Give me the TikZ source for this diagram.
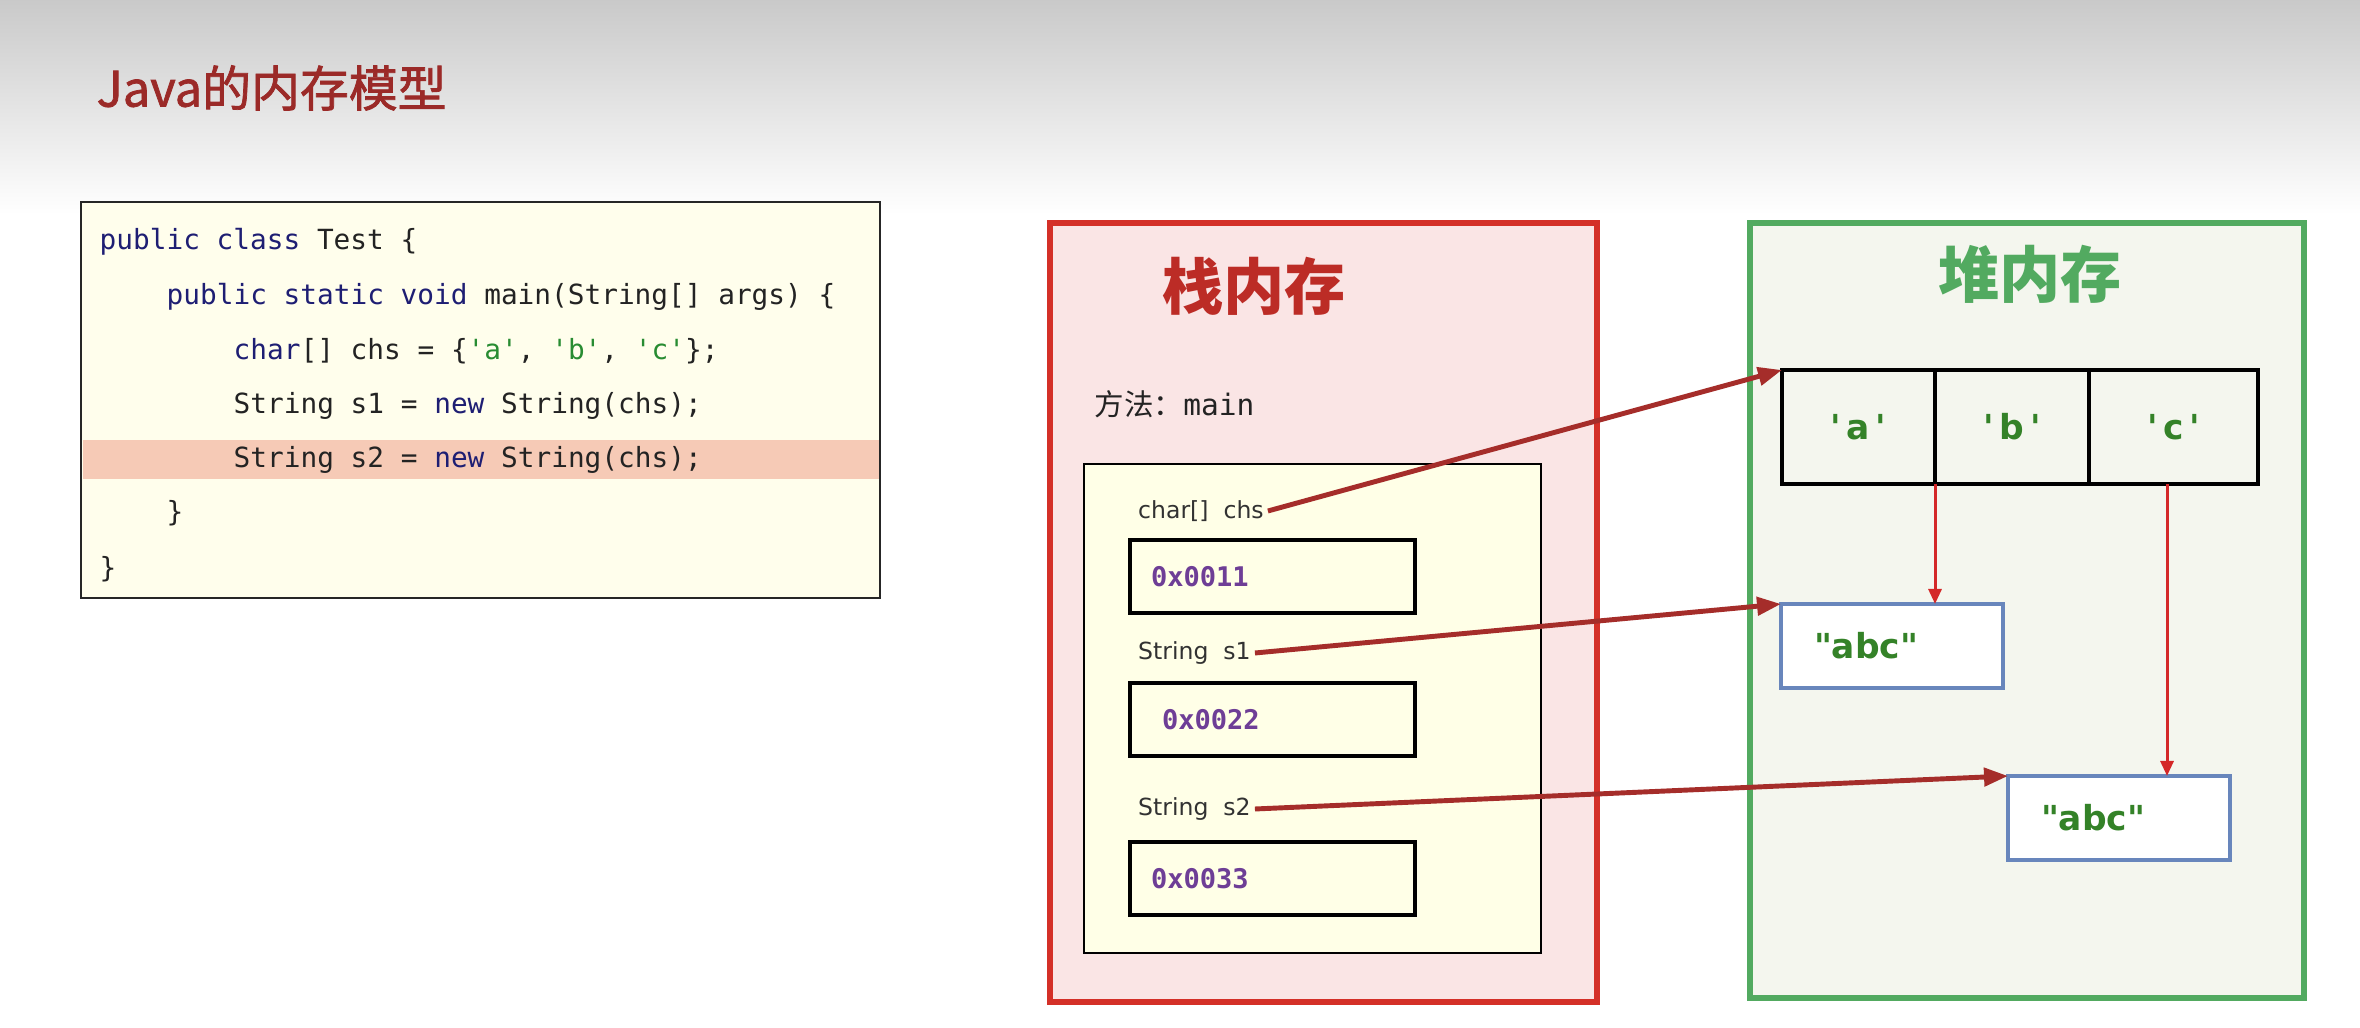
\documentclass[tikz,border=0pt]{standalone}
\usepackage{fontspec}
\setmainfont{DejaVu Sans}
\setmonofont{DejaVu Sans Mono}
\newfontfamily\cjk{Noto Sans CJK SC}
\newfontfamily\cjktitle[FakeBold=1.5]{Noto Sans CJK SC}
\usetikzlibrary{arrows.meta, positioning}
\definecolor{titlered}{RGB}{155,42,40}
\definecolor{kwblue}{RGB}{30,30,115}
\definecolor{codetext}{RGB}{35,35,35}
\definecolor{chrgreen}{RGB}{40,140,50}
\definecolor{codebg}{RGB}{255,254,236}
\definecolor{hilite}{RGB}{246,202,182}
\definecolor{stackred}{RGB}{212,48,40}
\definecolor{stackbg}{RGB}{250,229,229}
\definecolor{stacktitle}{RGB}{188,44,38}
\definecolor{heapgreen}{RGB}{82,170,96}
\definecolor{heapbg}{RGB}{244,246,238}
\definecolor{frameyellow}{RGB}{255,255,231}
\definecolor{addrpurple}{RGB}{110,62,150}
\definecolor{valgreen}{RGB}{52,130,40}
\definecolor{strblue}{RGB}{104,134,188}
\definecolor{refred}{RGB}{165,45,42}
\definecolor{linkred}{RGB}{212,40,40}
\definecolor{labgray}{RGB}{50,50,50}
\tikzset{
  codebox/.style = {draw=black!85, line width=0.7pt, fill=codebg, anchor=north west,
                    minimum width=79.9mm, minimum height=39.6mm, outer sep=0pt},
  codeln/.style  = {anchor=base west, inner sep=0pt, text=codetext,
                    font=\fontsize{7.9pt}{9pt}\selectfont\ttfamily},
  region/.style  = {line width=1.7pt, anchor=north west, outer sep=0pt,
                    minimum width=54.7mm, minimum height=77.9mm},
  heading/.style = {font=\fontsize{17.4pt}{20pt}\selectfont\cjk\bfseries},
  frame/.style   = {draw=black, line width=0.7pt, fill=frameyellow, anchor=north west,
                    minimum width=45.7mm, minimum height=48.9mm, outer sep=0pt},
  var/.style     = {anchor=west, inner sep=1pt, text=labgray,
                    font=\fontsize{6.7pt}{8pt}\selectfont},
  addr/.style    = {draw=black, line width=0.9pt, fill=frameyellow, anchor=north west,
                    minimum height=7.3mm, text width=24.3mm, inner xsep=2.1mm, align=left,
                    outer sep=0pt, text=addrpurple,
                    font=\fontsize{7.7pt}{9pt}\selectfont\ttfamily\bfseries},
  cell/.style    = {draw=black, line width=0.9pt, anchor=north west, minimum height=11.4mm,
                    outer sep=0pt, text=valgreen, font=\fontsize{9.8pt}{11pt}\selectfont\bfseries},
  strobj/.style  = {draw=strblue, line width=0.9pt, fill=white, anchor=north west,
                    minimum height=8.4mm, text width=15.6mm, inner xsep=3.3mm, align=left,
                    outer sep=0pt, text=valgreen, font=\fontsize{9.8pt}{11pt}\selectfont\bfseries},
  ref/.style     = {-{Triangle[length=2.4mm, width=1.8mm]}, line width=1.4pt, draw=refred},
  link/.style    = {-{Triangle[length=1.5mm, width=1.3mm]}, line width=0.85pt, draw=linkred},
}
\newcommand{\kw}[1]{\textcolor{kwblue}{#1}}
\newcommand{\chr}[1]{\textcolor{chrgreen}{\textquotesingle#1\textquotesingle}}
\newcommand{\qs}[1]{\textquotesingle\,#1\,\textquotesingle}

\begin{document}
\begin{tikzpicture}[x=0.1mm, y=-0.1mm]
  \useasboundingbox (0,0) rectangle (2360,1028);
  \fill[white] (0,0) rectangle (2360,1028);
  \shade[top color=black!21, bottom color=white] (0,0) rectangle (2360,215);
  \node[anchor=west, inner sep=0pt, text=titlered, font=\fontsize{13.9pt}{16pt}\selectfont\cjktitle]
    (title) at (96,88) {Java的内存模型};

  \node[codebox] (code) at (81,202) {};
  \fill[hilite] (82.5,440) rectangle (878.5,479);
  \node[codeln] (ln1) at (99,250) {\kw{public class} Test \{};
  \node[codeln] (ln2) at (166,305) {\kw{public static void} main(String[] args) \{};
  \node[codeln] (ln3) at (233,360) {\kw{char}[] chs = \{\chr{a}, \chr{b}, \chr{c}\};};
  \node[codeln] (ln4) at (233,414) {String s1 = \kw{new} String(chs);};
  \node[codeln] (ln5) at (233,468) {String s2 = \kw{new} String(chs);};
  \node[codeln] (ln6) at (166,522) {\}};
  \node[codeln] (ln7) at (99,578) {\}};

  \node[region, draw=stackred, fill=stackbg] (stack) at (1050,223) {};
  \node[heading, text=stacktitle] (stackname) at (1254,286) {栈内存};
  \node[anchor=west, inner sep=0pt, text=codetext, font=\fontsize{8.4pt}{10pt}\selectfont]
    (method) at (1094,404) {\cjk 方法：\ttfamily main};
  \node[frame] (main) at (1084,464) {};
  \node[var] (chs) at (1134,511) {char[]~~chs};
  \node[addr] (ad1) at (1130,540) {0x0011};
  \node[var] (s1) at (1134,653) {String~~s1};
  \node[addr] (ad2) at (1130,683) {\hspace{1.1mm}0x0022};
  \node[var] (s2) at (1134,809) {String~~s2};
  \node[addr] (ad3) at (1130,842) {0x0033};

  \node[region, draw=heapgreen, fill=heapbg, minimum width=55.4mm, minimum height=77.5mm]
    (heap) at (1750,223) {};
  \node[heading, text=heapgreen] (heapname) at (2030,274) {堆内存};
  \node[cell, minimum width=15.3mm] (ca) at (1782,370) {\qs{a}};
  \node[cell, minimum width=15.4mm, right=0pt of ca] (cb) {\qs{b}};
  \node[cell, minimum width=16.9mm, right=0pt of cb] (cc) {\qs{c}};
  \node[strobj] (str1) at (1781,604) {\textquotedbl abc\textquotedbl};
  \node[strobj] (str2) at (2008,776) {\textquotedbl abc\textquotedbl};

  \draw[link] (cb.south west) -- (cb.south west |- str1.north);
  \draw[link] ([xshift=7.8mm]cc.south west) -- ([xshift=7.8mm]cc.south west |- str2.north);
  \draw[ref] (chs.east) -- (ca.north west);
  \draw[ref] (s1.east) -- (str1.north west);
  \draw[ref] (s2.east) -- (str2.north west);
\end{tikzpicture}
\end{document}
